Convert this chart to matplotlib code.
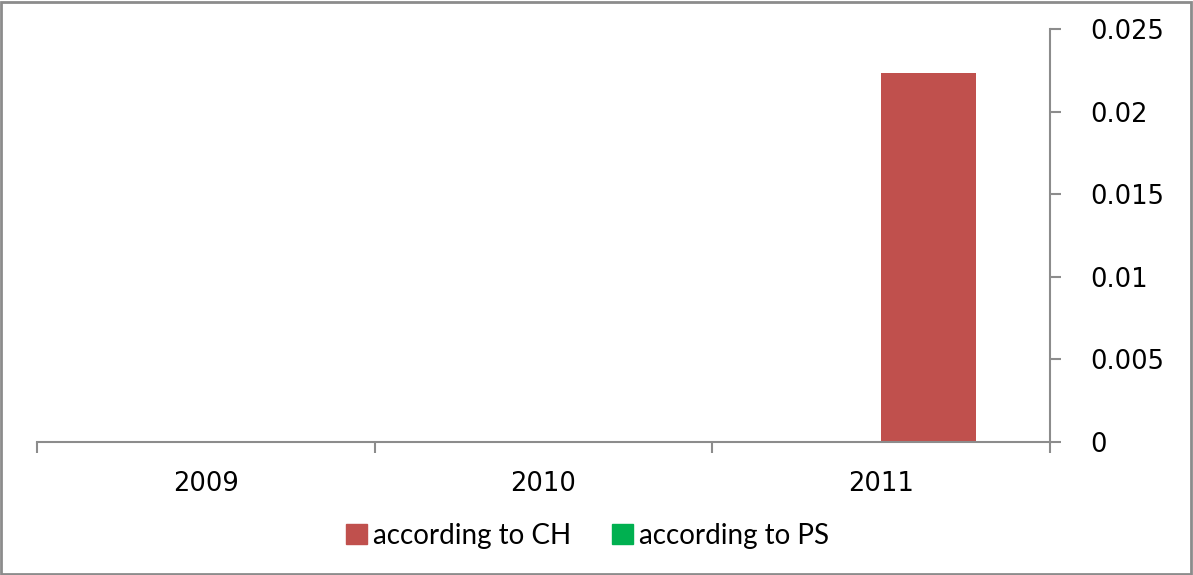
import matplotlib
matplotlib.use("Agg")
import matplotlib.pyplot as plt
from matplotlib.patches import Rectangle, Patch
import numpy as np

plt.rcParams["font.family"] = ["DejaVu Sans"]

# data
years = ["2009", "2010", "2011"]
according_to_ch = [0.0, 0.0, 0.02234]
according_to_ps = [0.0, 0.0, 0.0]
y_ticks = [0, 0.005, 0.01, 0.015, 0.02, 0.025]
y_labels = ["0", "0.005", "0.01", "0.015", "0.02", "0.025"]

fig = plt.figure(figsize=(11.93, 5.75), dpi=100)
ax = fig.add_axes([0.031, 0.2313, 0.849, 0.7183])

x = np.arange(len(years))
w = 0.282
ax.bar(x - w / 2, according_to_ps, w, color="#00B050", align="center")
ax.bar(x + w / 2, according_to_ch, w, color="#C0504D", align="center")

ax.set_xlim(-0.5, 2.5)
ax.set_ylim(0, 0.025)

# spines: only bottom and right, grey
for s in ["top", "left"]:
    ax.spines[s].set_visible(False)
for s in ["bottom", "right"]:
    ax.spines[s].set_color("#8c8c8c")
    ax.spines[s].set_linewidth(1.5)

# y axis on the right
ax.yaxis.tick_right()
ax.set_yticks(y_ticks)
ax.set_yticklabels(y_labels, family="DejaVu Sans")
ax.tick_params(axis="y", direction="out", length=8, width=1.5, color="#8c8c8c",
               labelsize=18.5, pad=21, labelcolor="black")

# x: category labels at centres, tick marks at boundaries
ax.set_xticks(x)
ax.set_xticklabels(years, family="DejaVu Sans")
ax.tick_params(axis="x", which="major", length=0, labelsize=18.5, pad=21)
ax.set_xticks([-0.5, 0.5, 1.5, 2.5], minor=True)
ax.tick_params(axis="x", which="minor", direction="out", length=8, width=1.5,
               color="#8c8c8c")

handles = [Patch(color="#C0504D", label="according to CH"),
           Patch(color="#00B050", label="according to PS")]
fig.legend(handles=handles, loc="center", bbox_to_anchor=(0.4925, 0.068),
           ncol=2, frameon=False, prop={"family": "Lato", "size": 20},
           handlelength=0.75, handleheight=0.75, handletextpad=0.2,
           columnspacing=1.5)

# outer chart border
fig.patches.append(Rectangle((0.001, 0.002), 0.997, 0.995, transform=fig.transFigure,
                             fill=False, edgecolor="#8c8c8c", linewidth=2))

fig.savefig("out.png", dpi=100)
